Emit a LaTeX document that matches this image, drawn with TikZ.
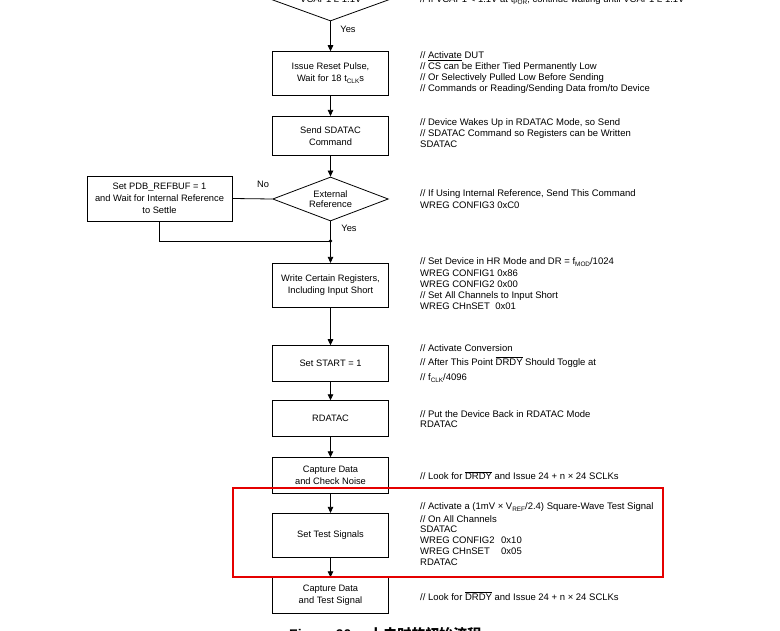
\documentclass[tikz,border=0pt]{standalone}
\usepackage{fontspec}
\setmainfont{Liberation Sans}
\newfontfamily\cjkf{Noto Sans CJK SC}
\usetikzlibrary{shapes.geometric,arrows.meta}
\newcommand{\sbs}[1]{\raisebox{-0.4ex}{\fontsize{6.4}{7}\selectfont #1}}
\newcommand{\ovl}[1]{$\overline{\hbox{#1}}$}
\tikzset{
  stepbox/.style={draw, line width=0.8pt, minimum width=115.6pt, align=center, inner sep=1pt,
    font=\fontsize{9.3}{11.8}\selectfont},
  decide/.style={draw, line width=0.8pt, diamond, aspect=2.6, minimum width=115.6pt,
    minimum height=44pt, inner sep=0pt, align=center, font=\fontsize{9.3}{10}\selectfont},
  cmt/.style={anchor=base west, inner sep=0pt, font=\fontsize{9.5}{11}\selectfont},
  lbl/.style={inner sep=0pt, font=\fontsize{9.3}{11}\selectfont},
  conn/.style={line width=0.8pt},
  flow/.style={line width=0.8pt, -{Triangle[length=6pt,width=5.5pt]}},
  hilite/.style={draw=red!90!black, line width=2pt}
}
\begin{document}
\begin{tikzpicture}[x=1pt,y=-1pt]
\useasboundingbox (0,0) rectangle (780,631);

% top (cut) decision
\node[decide, minimum height=42pt] (d1) at (330.5,0) {};
\node[cmt] (d1t) at (300,2.5) {VCAP1 ≥ 1.1V};
\node[cmt] (c0) at (420,2.5) {// If VCAP1 < 1.1V at t\sbs{POR}, continue waiting until VCAP1 ≥ 1.1V};

% boxes
\node[stepbox, minimum height=43.3pt] (n1) at (330.5,73.3) {Issue Reset Pulse,\\Wait for 18 t\sbs{CLK}s};
\node[stepbox, minimum height=39pt] (n2) at (330.5,135.8) {Send SDATAC\\Command};
\node[decide] (d2) at (330.5,199) {External\\Reference};
\node[stepbox, minimum width=145pt, minimum height=45pt] (lb) at (159.5,198.5) {Set PDB\_REFBUF = 1\\and Wait for Internal Reference\\to Settle};
\coordinate (j) at (330.5,241);
\node[stepbox, minimum height=44pt] (n3) at (330.5,285.3) {Write Certain Registers,\\Including Input Short};
\node[stepbox, minimum height=35.5pt] (n4) at (330.5,363.4) {Set START = 1};
\node[stepbox, minimum height=36pt] (n5) at (330.5,418.7) {RDATAC};
\node[stepbox, minimum height=35.6pt] (n6) at (330.5,475.5) {Capture Data\\and Check Noise};
\node[stepbox, minimum height=44pt] (n7) at (330.5,535.3) {Set Test Signals};
\node[stepbox, minimum height=35.6pt] (n8) at (330.5,595.5) {Capture Data\\and Test Signal};

% labels
\node[lbl] (y1) at (348,29) {Yes};
\node[lbl] (no) at (263,184) {No};
\node[lbl] (y2) at (349,228) {Yes};

% connectors
\draw[flow] (d1.south) -- (n1.north);
\draw[flow] (n1.south) -- (n2.north);
\draw[flow] (n2.south) -- (d2.north);
\draw[conn] (d2.west) -- (lb.east);
\draw[conn] (lb.south) |- (j);
\draw[flow] (d2.south) -- (n3.north);
\fill (j) circle (1.9pt);
\draw[flow] (n3.south) -- (n4.north);
\draw[flow] (n4.south) -- (n5.north);
\draw[flow] (n5.south) -- (n6.north);
\draw[flow] (n6.south) -- (n7.north);
\draw[flow] (n7.south) -- (n8.north);

% comments
\node[cmt] (c1a) at (420,58.3) {// \underline{Activate} DUT};
\node[cmt] (c1b) at (420,69.3) {// CS can be Either Tied Permanently Low};
\node[cmt] (c1c) at (420,80.3) {// Or Selectively Pulled Low Before Sending};
\node[cmt] (c1d) at (420,91.3) {// Commands or Reading/Sending Data from/to Device};

\node[cmt] (c2a) at (420,125.3) {// Device Wakes Up in RDATAC Mode, so Send};
\node[cmt] (c2b) at (420,136.3) {// SDATAC Command so Registers can be Written};
\node[cmt] (c2c) at (420,147.3) {SDATAC};

\node[cmt] (c3a) at (420,196.3) {// If Using Internal Reference, Send This Command};
\node[cmt] (c3b) at (420,208.3) {WREG CONFIG3 0xC0};

\node[cmt] (c4a) at (420,264.3) {// Set Device in HR Mode and DR = f\sbs{MOD}/1024};
\node[cmt] (c4b) at (420,276.8) {WREG CONFIG1 0x86};
\node[cmt] (c4c) at (420,287.8) {WREG CONFIG2 0x00};
\node[cmt] (c4d) at (420,298.8) {// Set All Channels to Input Short};
\node[cmt] (c4e) at (420,309.8) {WREG CHnSET\hspace{5.5pt}0x01};

\node[cmt] (c5a) at (420,351.3) {// Activate Conversion};
\node[cmt] (c5b) at (420,365.3) {// After This Point \ovl{DRDY} Should Toggle at};
\node[cmt] (c5c) at (420,380.3) {// f\sbs{CLK}/4096};

\node[cmt] (c6a) at (420,417.3) {// Put the Device Back in RDATAC Mode};
\node[cmt] (c6b) at (420,427.8) {RDATAC};

\node[cmt] (c7a) at (420,479.8) {// Look for \ovl{DRDY} and Issue 24 + n × 24 SCLKs};

\node[cmt] (c8a) at (420,509) {// Activate a (1mV × V\sbs{REF}/2.4) Square-Wave Test Signal};
\node[cmt] (c8b) at (420,522.3) {// On All Channels};
\node[cmt] (c8c) at (420,532.8) {SDATAC};
\node[cmt] (c8d) at (420,543.3) {\makebox[81pt][l]{WREG CONFIG2}0x10};
\node[cmt] (c8e) at (420,554) {\makebox[81pt][l]{WREG CHnSET}0x05};
\node[cmt] (c8f) at (420,565) {RDATAC};

\node[cmt] (c9a) at (420,600) {// Look for \ovl{DRDY} and Issue 24 + n × 24 SCLKs};

% highlight
\draw[hilite] (232.5,488.3) rectangle (663,576.7);

% caption (cut)
\node[anchor=base west, inner sep=0pt, font=\fontsize{14}{16}\selectfont\bfseries] (cap) at (289,639) {Figure 90.\hspace{14pt}{\cjkf 上电时的初始流程}};
\end{tikzpicture}
\end{document}
